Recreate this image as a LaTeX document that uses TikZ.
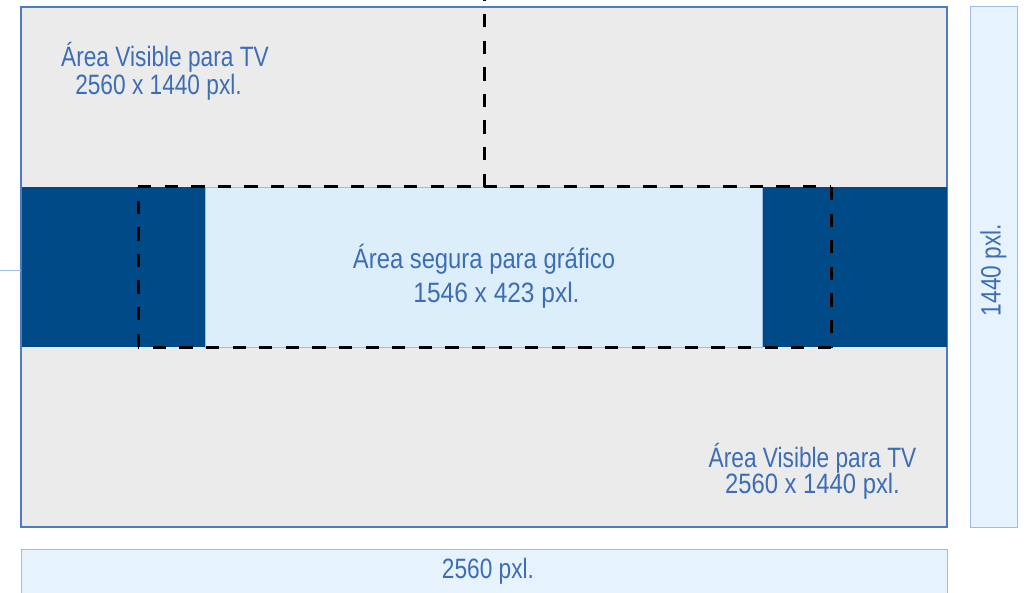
\documentclass[tikz,border=0pt]{standalone}
\usepackage{fontspec}
\setmainfont{Liberation Sans}[FakeStretch=0.81]
\definecolor{gbg}{HTML}{EBEBEB}
\definecolor{dband}{HTML}{004A87}
\definecolor{lblue}{HTML}{DDEEFB}
\definecolor{barfill}{HTML}{E7F3FC}
\definecolor{mainedge}{HTML}{4D7CC0}
\definecolor{lightedge}{HTML}{9DBDE6}
\definecolor{txt}{HTML}{3D6DB5}
\begin{document}
\begin{tikzpicture}[x=1pt,y=-1pt,
  lbl/.style={anchor=base,inner sep=0pt,text=txt,font=\fontsize{28}{32}\selectfont},
  safedash/.style={draw=black,line width=3pt,dash pattern=on 13.3pt off 13.3pt}]
\useasboundingbox (0,0) rectangle (1027,593);
% side bars
\draw[lightedge,fill=barfill,line width=1pt] (970,7) rectangle (1017,527);
\draw[lightedge,fill=barfill,line width=1pt] (21,549) rectangle (947,600);
% main area
\draw[mainedge,fill=gbg,line width=1.5pt] (21,7) rectangle (947,527);
\fill[dband] (21.5,187) rectangle (946.5,347);
\draw[lightedge,fill=lblue,line width=0.8pt] (205,187) rectangle (762,347);
% left tick
\draw[lightedge,line width=1pt] (0,271) -- (21,271);
% dashed safe area
\coordinate (tl) at (138,187);
\coordinate (tr) at (831,187);
\coordinate (br) at (831,347);
\coordinate (bl) at (138,347);
\coordinate (vt) at (484,0);
\coordinate (vb) at (484,187);
\draw[safedash] (tl) -- (tr);
\draw[safedash] (tr) -- (br);
\draw[safedash] (br) -- (bl);
\draw[safedash] (bl) -- (tl);
\draw[safedash] (vb) -- (vt);
% labels
\node[lbl] (tv1a) at (165,67) {Área Visible para TV};
\node[lbl] (tv1b) at (158.5,95) {2560 x 1440 pxl.};
\node[lbl] (sa) at (484,269) {\scalebox{1.05}[1]{Área segura para gráfico}};
\node[lbl] (sb) at (496.5,302) {\scalebox{1.08}[1]{1546 x 423 pxl.}};
\node[lbl] (tv2a) at (812.5,467) {Área Visible para TV};
\node[lbl] (tv2b) at (812.5,493) {\scalebox{1.05}[1]{2560 x 1440 pxl.}};
\node[lbl] (w) at (488,578) {2560 pxl.};
\node[lbl,rotate=90] (h) at (1000.5,270) {1440 pxl.};
\end{tikzpicture}
\end{document}
